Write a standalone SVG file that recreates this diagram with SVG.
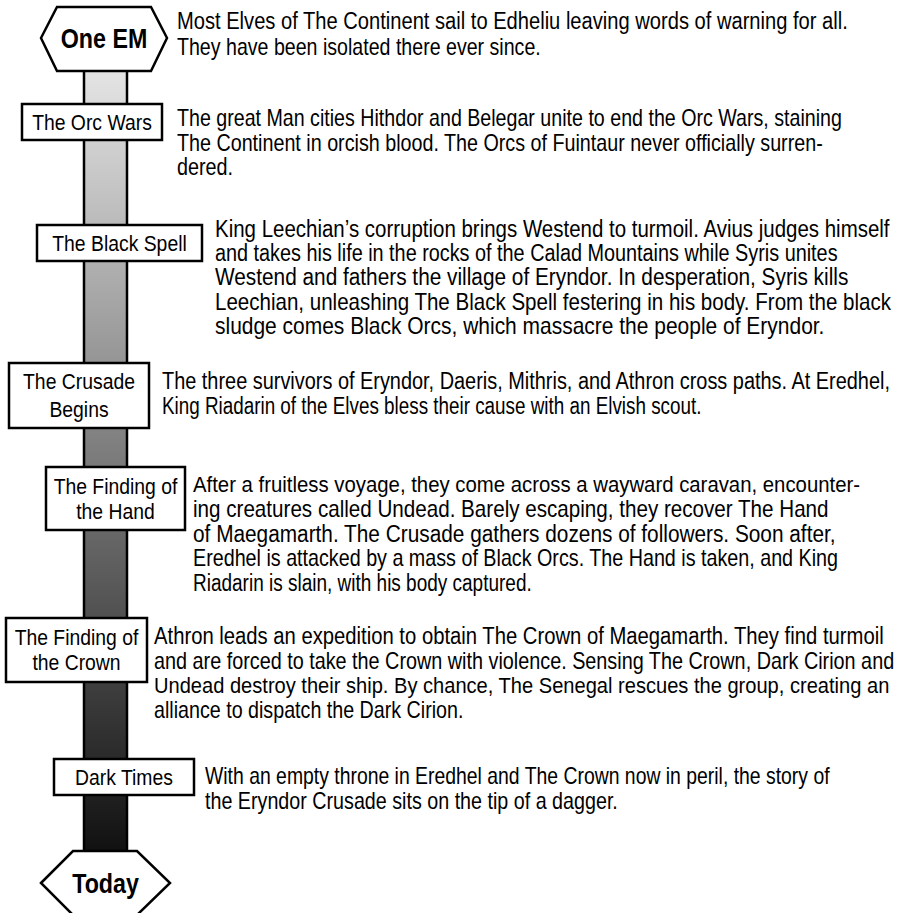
<svg xmlns="http://www.w3.org/2000/svg" width="898" height="913" viewBox="0 0 898 913">
<defs>
<linearGradient id="barGrad" x1="0" y1="71" x2="0" y2="851" gradientUnits="userSpaceOnUse">
<stop offset="0" stop-color="#e4e4e4"/>
<stop offset="1" stop-color="#111111"/>
</linearGradient>
</defs>
<style>
.body{font-family:"Liberation Sans",Arial,sans-serif;font-size:23px;fill:#000}
.lbl{font-family:"Liberation Sans",Arial,sans-serif;font-size:22px;fill:#000;text-anchor:middle}
.big{font-family:"Liberation Sans",Arial,sans-serif;font-size:28px;font-weight:bold;fill:#000;text-anchor:middle}
.box{fill:#fff;stroke:#000;stroke-width:2.5}
.hex{fill:#fff;stroke:#000;stroke-width:2.5;stroke-linejoin:miter}
</style>
<rect width="898" height="913" fill="#fff"/>
<g id="connectors">
<rect x="84" y="65" width="43" height="792" fill="url(#barGrad)" stroke="#000" stroke-width="2.5"/>
</g>
<g id="node-one-em">
<polygon class="hex" points="41,38 57,7 151,7 167,38 151,71 57,71"/>
<text class="big" transform="translate(104,47.5) scale(0.83,1)">One EM</text>
<text class="body" transform="translate(177,29) scale(0.875,1)">Most Elves of The Continent sail to Edheliu leaving words of warning for all.</text>
<text class="body" transform="translate(177,54.5) scale(0.852,1)">They have been isolated there ever since.</text>
</g>
<g id="node-orc-wars">
<rect class="box" x="22" y="104" width="140" height="36"/>
<text class="lbl" transform="translate(92,130) scale(0.88,1)">The Orc Wars</text>
<text class="body" transform="translate(177,126) scale(0.854,1)">The great Man cities Hithdor and Belegar unite to end the Orc Wars, staining</text>
<text class="body" transform="translate(177,150.7) scale(0.858,1)">The Continent in orcish blood. The Orcs of Fuintaur never officially surren-</text>
<text class="body" transform="translate(177,175.4) scale(0.86,1)">dered.</text>
</g>
<g id="node-black-spell">
<rect class="box" x="37" y="225" width="165" height="36"/>
<text class="lbl" transform="translate(119.5,251) scale(0.88,1)">The Black Spell</text>
<text class="body" transform="translate(215,237) scale(0.89,1)">King Leechian’s corruption brings Westend to turmoil. Avius judges himself</text>
<text class="body" transform="translate(215,261.2) scale(0.862,1)">and takes his life in the rocks of the Calad Mountains while Syris unites</text>
<text class="body" transform="translate(215,285.4) scale(0.905,1)">Westend and fathers the village of Eryndor. In desperation, Syris kills</text>
<text class="body" transform="translate(215,309.6) scale(0.893,1)">Leechian, unleashing The Black Spell festering in his body. From the black</text>
<text class="body" transform="translate(215,333.8) scale(0.912,1)">sludge comes Black Orcs, which massacre the people of Eryndor.</text>
</g>
<g id="node-crusade-begins">
<rect class="box" x="9" y="363" width="140" height="65"/>
<text class="lbl" transform="translate(79,389) scale(0.88,1)"><tspan x="0" y="0">The Crusade</tspan><tspan x="0" y="28">Begins</tspan></text>
<text class="body" transform="translate(162,389) scale(0.866,1)">The three survivors of Eryndor, Daeris, Mithris, and Athron cross paths. At Eredhel,</text>
<text class="body" transform="translate(162,413.5) scale(0.82,1)">King Riadarin of the Elves bless their cause with an Elvish scout.</text>
</g>
<g id="node-finding-hand">
<rect class="box" x="46" y="467" width="139" height="63"/>
<text class="lbl" transform="translate(115.5,494) scale(0.88,1)"><tspan x="0" y="0">The Finding of</tspan><tspan x="0" y="25">the Hand</tspan></text>
<text class="body" transform="translate(193,492) scale(0.885,1)">After a fruitless voyage, they come across a wayward caravan, encounter-</text>
<text class="body" transform="translate(193,516.8) scale(0.897,1)">ing creatures called Undead. Barely escaping, they recover The Hand</text>
<text class="body" transform="translate(193,541.6) scale(0.905,1)">of Maegamarth. The Crusade gathers dozens of followers. Soon after,</text>
<text class="body" transform="translate(193,566.4) scale(0.858,1)">Eredhel is attacked by a mass of Black Orcs. The Hand is taken, and King</text>
<text class="body" transform="translate(193,591.2) scale(0.826,1)">Riadarin is slain, with his body captured.</text>
</g>
<g id="node-finding-crown">
<rect class="box" x="6" y="618" width="141" height="64"/>
<text class="lbl" transform="translate(76.5,645) scale(0.88,1)"><tspan x="0" y="0">The Finding of</tspan><tspan x="0" y="25">the Crown</tspan></text>
<text class="body" transform="translate(154,644) scale(0.881,1)">Athron leads an expedition to obtain The Crown of Maegamarth. They find turmoil</text>
<text class="body" transform="translate(154,668.7) scale(0.861,1)">and are forced to take the Crown with violence. Sensing The Crown, Dark Cirion and</text>
<text class="body" transform="translate(154,693.4) scale(0.874,1)">Undead destroy their ship. By chance, The Senegal rescues the group, creating an</text>
<text class="body" transform="translate(154,718.1) scale(0.856,1)">alliance to dispatch the Dark Cirion.</text>
</g>
<g id="node-dark-times">
<rect class="box" x="54" y="759" width="140" height="36"/>
<text class="lbl" transform="translate(124,785) scale(0.88,1)">Dark Times</text>
<text class="body" transform="translate(205,784) scale(0.843,1)">With an empty throne in Eredhel and The Crown now in peril, the story of</text>
<text class="body" transform="translate(205,808.5) scale(0.857,1)">the Eryndor Crusade sits on the tip of a dagger.</text>
</g>
<g id="node-today">
<polygon class="hex" points="41,883 73,851 137,851 170,883 137,915 73,915"/>
<text class="big" transform="translate(105.5,892.5) scale(0.83,1)">Today</text>
</g>
</svg>
